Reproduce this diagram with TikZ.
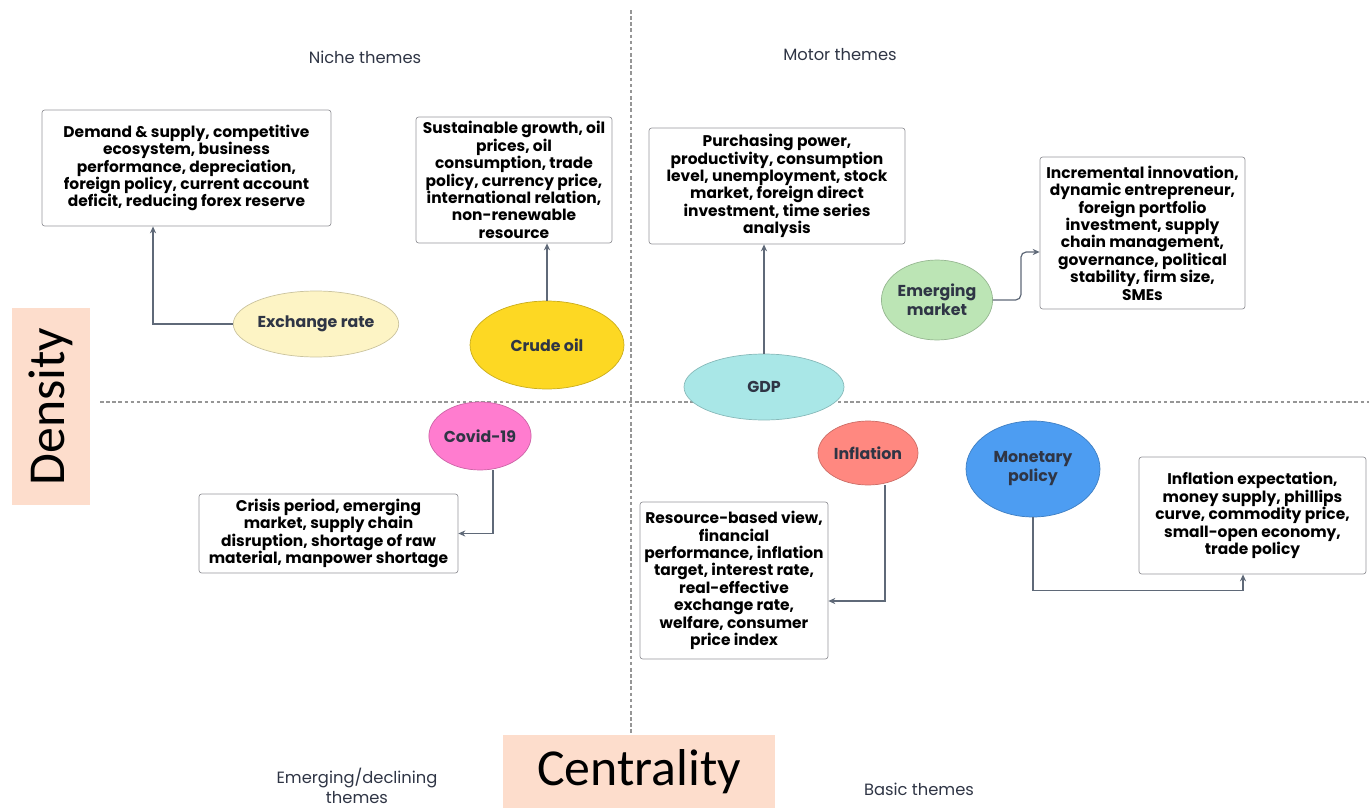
\documentclass[tikz,border=0pt]{standalone}
\usepackage{fontspec}
\setmainfont{Poppins}
\newfontfamily\calib{Carlito}
\usetikzlibrary{shapes.geometric,arrows.meta}

\definecolor{peach}{RGB}{253,221,204}
\definecolor{boxgray}{RGB}{150,150,155}
\definecolor{linkgray}{RGB}{95,105,120}
\definecolor{labelgray}{RGB}{47,53,69}
\definecolor{gridgray}{RGB}{150,150,150}
\definecolor{exyellow}{RGB}{253,244,197}
\definecolor{oilyellow}{RGB}{253,216,35}
\definecolor{gdpcyan}{RGB}{169,231,231}
\definecolor{emgreen}{RGB}{188,229,181}
\definecolor{covpink}{RGB}{255,124,207}
\definecolor{infred}{RGB}{255,136,128}
\definecolor{monblue}{RGB}{77,157,242}

\tikzset{
  theme/.style={draw=boxgray, rounded corners=1.5pt, fill=white, align=center,
    font=\fontsize{8.8}{9.9}\selectfont\bfseries, inner sep=1pt},
  cluster/.style={ellipse, draw=#1!80!black, fill=#1, align=center, inner sep=0pt,
    font=\fontsize{9}{10.8}\selectfont\bfseries, text=labelgray},
  link/.style={draw=linkgray, line width=0.7pt, -{Stealth[length=4pt,width=3.5pt]}},
  quadlabel/.style={text=labelgray, align=center, font=\fontsize{9.3}{11.5}\selectfont},
  axisbox/.style={fill=peach, inner sep=0pt, font=\calib\fontsize{29.5}{30}\selectfont}
}

\begin{document}
\begin{tikzpicture}[x=0.02cm, y=-0.02cm]

    \useasboundingbox (0,0) rectangle (1369,808);

    % Cuadrantes
    \draw[gridgray, line width=0.6pt, dash pattern=on 2pt off 1.5pt] (631,10) -- (631,735);
    \draw[gridgray, line width=0.6pt, dash pattern=on 2pt off 1.5pt] (100,402) -- (1369,402);

    % Ejes
    \node[axisbox, rotate=90, minimum width=3.94cm, minimum height=1.56cm] (density) at (51,406.5) {Density};
    \node[axisbox, minimum width=5.44cm, minimum height=1.46cm] (centrality) at (639,771.5) {Centrality};

    % Nombres de los cuadrantes
    \node[quadlabel] (niche) at (365,57) {Niche themes};
    \node[quadlabel] (motor) at (840,55) {Motor themes};
    \node[quadlabel] (declining) at (357,786) {Emerging/declining\\themes};
    \node[quadlabel] (basic) at (919,789) {Basic themes};

    % Temas
    \node[theme, minimum width=5.78cm, minimum height=2.32cm] (box1) at (186.5,168)
        {Demand \& supply, competitive\\ecosystem, business\\performance, depreciation,\\foreign policy, current account\\deficit, reducing forex reserve};
    \node[theme, minimum width=3.92cm, minimum height=2.52cm] (box2) at (514,180)
        {Sustainable growth, oil\\prices, oil\\consumption, trade\\policy, currency price,\\international relation,\\non-renewable\\resource};
    \node[theme, minimum width=5.12cm, minimum height=2.32cm] (box3) at (777,186)
        {Purchasing power,\\productivity, consumption\\level, unemployment, stock\\market, foreign direct\\investment, time series\\analysis};
    \node[theme, minimum width=4.1cm, minimum height=3.04cm] (box4) at (1142.5,233)
        {Incremental innovation,\\dynamic entrepreneur,\\foreign portfolio\\investment, supply\\chain management,\\governance, political\\stability, firm size,\\SMEs};
    \node[theme, minimum width=5.18cm, minimum height=1.58cm] (box5) at (328.5,533.5)
        {Crisis period, emerging\\market, supply chain\\disruption, shortage of raw\\material, manpower shortage};
    \node[theme, minimum width=3.76cm, minimum height=3.14cm] (box6) at (734,580.5)
        {Resource-based view,\\financial\\performance, inflation\\target, interest rate,\\real-effective\\exchange rate,\\welfare, consumer\\price index};
    \node[theme, minimum width=4.54cm, minimum height=2.34cm] (box7) at (1252.5,515.5)
        {Inflation expectation,\\money supply, phillips\\curve, commodity price,\\small-open economy,\\trade policy};

    % Clusters
    \node[cluster=exyellow, minimum width=3.12cm, minimum height=1.32cm] (exr) at (316,324) {Exchange rate};
    \node[cluster=oilyellow, minimum width=3.08cm, minimum height=1.76cm] (crude) at (547,345) {Crude oil};
    \node[cluster=gdpcyan, minimum width=3.2cm, minimum height=1.32cm] (gdp) at (764,387) {GDP};
    \node[cluster=emgreen, minimum width=1.8cm, minimum height=1.6cm] (emerg) at (937,300) {Emerging\\market};
    \node[cluster=covpink, minimum width=1.92cm, minimum height=1.36cm] (covid) at (480,436) {Covid-19};
    \node[cluster=infred, minimum width=2.0cm, minimum height=1.28cm] (infl) at (868,453) {Inflation};
    \node[cluster=monblue, minimum width=2.68cm, minimum height=1.92cm] (monet) at (1033,469) {Monetary\\policy};

    % Conexiones
    \draw[link] (exr.west) -| ([xshift=-0.67cm]box1.south);
    \draw[link] (crude.north) -- (crude.north |- box2.south);
    \draw[link] (gdp.north) -- (gdp.north |- box3.south);
    \draw[link, rounded corners=3pt] (emerg.east) -- ++(0.56cm,0cm) |- ([yshift=-0.38cm]box4.west);
    \draw[link] ([xshift=0.26cm]covid.south) |- (box5.east);
    \draw[link] ([xshift=0.34cm]infl.south) |- ([yshift=-0.41cm]box6.east);
    \draw[link] (monet.south) -- ++(0cm,-1.46cm) -| ([xshift=-0.19cm]box7.south);

\end{tikzpicture}
\end{document}
